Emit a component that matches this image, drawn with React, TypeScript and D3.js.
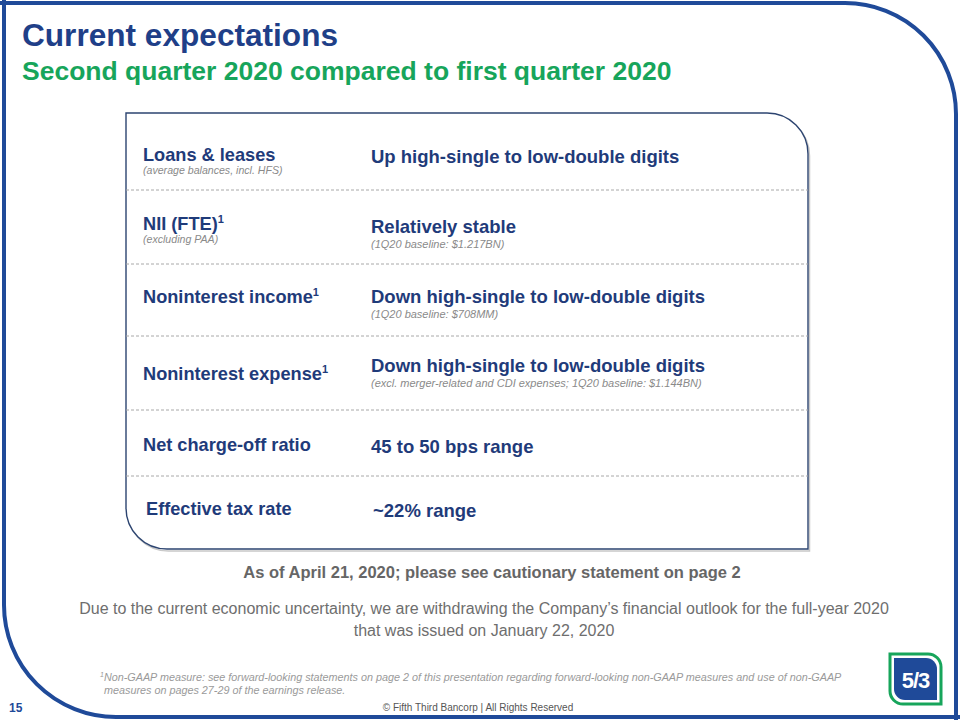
import React from "react";
import * as d3 from "d3";

const metrics = [
  "Loans & leases",
  "NII (FTE)",
  "Noninterest income",
  "Noninterest expense",
  "Net charge-off ratio",
  "Effective tax rate",
];
const metricFootnote = [false, true, true, true, false, false];
const metricNotes = ["(average balances, incl. HFS)", "(excluding PAA)", "", "", "", ""];
const outlooks = [
  "Up high-single to low-double digits",
  "Relatively stable",
  "Down high-single to low-double digits",
  "Down high-single to low-double digits",
  "45 to 50 bps range",
  "~22% range",
];
const outlookNotes = [
  "",
  "(1Q20 baseline: $1.217BN)",
  "(1Q20 baseline: $708MM)",
  "(excl. merger-related and CDI expenses; 1Q20 baseline: $1.144BN)",
  "",
  "",
];

// layout (not data)
const rowBounds = [113, 190, 264, 336, 410, 476, 549];
const labelOffset = [48, 40, 39, 44, 41, 39];
const outlookOffset = [50, 43, 39, 36, 43, 41];
const labelX = [143, 143, 143, 143, 143, 146];
const outlookX = [371, 371, 371, 371, 371, 373];

const FONT = "'Liberation Sans', Arial, Helvetica, sans-serif";
const BLUE = "#1f3b7a";
const FRAME = "#1f4a99";
const GREEN = "#17a55b";

export default function App() {
  const x = d3.scaleLinear().domain([0, 1]).range([126, 808]);
  const rowTop = (i: number) => rowBounds[i];
  const boxTop = rowBounds[0];
  const boxBottom = rowBounds[rowBounds.length - 1];
  const r = 41;
  const boxPath = `M ${x(0)} ${boxTop} H ${x(1) - r} A ${r} ${r} 0 0 1 ${x(1)} ${boxTop + r} V ${boxBottom} H ${x(0) + r} A ${r} ${r} 0 0 1 ${x(0)} ${boxBottom - r} Z`;

  return (
    <svg
      width={960}
      height={720}
      viewBox="0 0 960 720"
      style={{ position: "absolute", left: 0, top: 0, display: "block", background: "#fff" }}
      fontFamily={FONT}
    >
      <rect x={0} y={0} width={960} height={720} fill="#fff" />
      {/* outer frame */}
      <path d="M 0 3 H 845 A 111 111 0 0 1 956 114 V 720" fill="none" stroke={FRAME} strokeWidth={4} />
      <path d="M 4 0 V 605 A 112 112 0 0 0 116 717 H 960" fill="none" stroke={FRAME} strokeWidth={4} />

      {/* title */}
      <text x={22} y={46} fontSize={31.6} fontWeight="bold" fill="#1f3f88">Current expectations</text>
      <text x={22} y={80} fontSize={26.5} fontWeight="bold" fill={GREEN}>Second quarter 2020 compared to first quarter 2020</text>

      {/* box */}
      <path d={boxPath} transform="translate(1.5,2)" fill="none" stroke="#c8c8c8" strokeWidth={1.5} />
      <path d={boxPath} fill="#fff" stroke="#2c4470" strokeWidth={1.4} />
      {rowBounds.slice(1, -1).map((y, i) => (
        <line key={i} x1={x(0)} x2={x(1)} y1={y} y2={y} stroke="#a8a8a8" strokeWidth={1} strokeDasharray="3,2" />
      ))}

      {metrics.map((m, i) => {
        const top = rowTop(i);
        return (
          <g key={m}>
            <text x={labelX[i]} y={top + labelOffset[i]} fontSize={18.2} fontWeight="bold" fill={BLUE}>
              {m}
              {metricFootnote[i] && (
                <tspan fontSize={11} dy={-7}>1</tspan>
              )}
            </text>
            {metricNotes[i] && (
              <text x={labelX[i]} y={top + labelOffset[i] + 13} fontSize={10.6} fontStyle="italic" fill="#8a8a8a">
                {metricNotes[i]}
              </text>
            )}
            <text x={outlookX[i]} y={top + outlookOffset[i]} fontSize={18.5} fontWeight="bold" fill={BLUE}>
              {outlooks[i]}
            </text>
            {outlookNotes[i] && (
              <text x={outlookX[i]} y={top + outlookOffset[i] + 15} fontSize={11} fontStyle="italic" fill="#8a8a8a">
                {outlookNotes[i]}
              </text>
            )}
          </g>
        );
      })}

      {/* notes */}
      <text x={492} y={578} fontSize={16.5} fontWeight="bold" fill="#666" textAnchor="middle">
        As of April 21, 2020; please see cautionary statement on page 2
      </text>
      <text x={484} y={614} fontSize={16} fill="#6e6e6e" textAnchor="middle">
        Due to the current economic uncertainty, we are withdrawing the Company’s financial outlook for the full-year 2020
      </text>
      <text x={484} y={636} fontSize={16} fill="#6e6e6e" textAnchor="middle">
        that was issued on January 22, 2020
      </text>

      <text x={100} y={681} fontSize={10.8} fontStyle="italic" fill="#9a9a9a">
        <tspan fontSize={7} dy={-4}>1</tspan>
        <tspan dy={4}>Non-GAAP measure: see forward-looking statements on page 2 of this presentation regarding forward-looking non-GAAP measures and use of non-GAAP</tspan>
      </text>
      <text x={104} y={694} fontSize={10.8} fontStyle="italic" fill="#9a9a9a">
        measures on pages 27-29 of the earnings release.
      </text>

      <text x={9} y={712} fontSize={12} fontWeight="bold" fill={FRAME}>15</text>
      <text x={478} y={711} fontSize={10} fill="#555" textAnchor="middle">© Fifth Third Bancorp | All Rights Reserved</text>

      {/* logo */}
      <g>
        <path d="M 890 654 H 928 A 13 13 0 0 1 941 667 V 704 H 903 A 13 13 0 0 1 890 691 Z" fill="#fff" stroke={GREEN} strokeWidth={3} />
        <path d="M 894 658 H 926 A 11 11 0 0 1 937 669 V 700 H 905 A 11 11 0 0 1 894 689 Z" fill={FRAME} />
        <text x={915.5} y={688} fontSize={22} fontWeight="bold" fill="#fff" textAnchor="middle" letterSpacing={-1}>5/3</text>
      </g>
    </svg>
  );
}
